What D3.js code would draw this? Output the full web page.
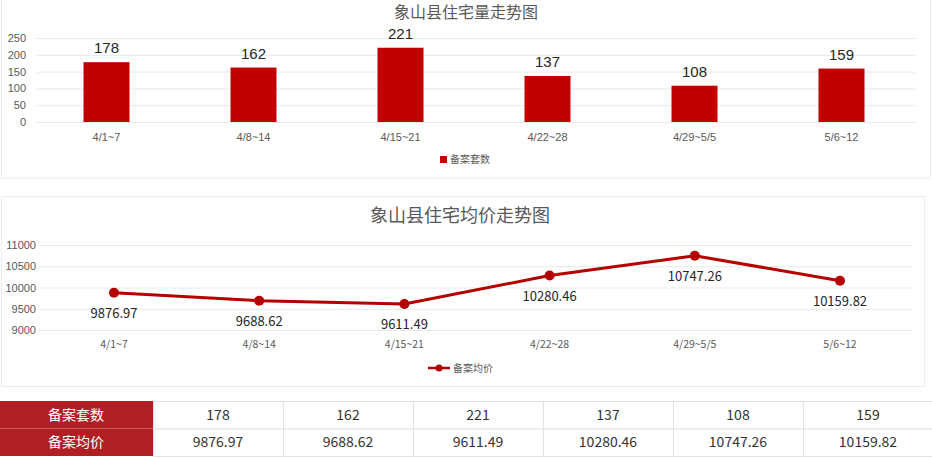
<!DOCTYPE html>
<html><head><meta charset="utf-8">
<script src="https://cdn.jsdelivr.net/npm/d3@7"></script>
<style>
html,body{margin:0;padding:0;background:#fff;}
svg{display:block;}
</style></head>
<body>
<svg id="c" width="932" height="458"></svg>
<script>
const categories = ["4/1~7","4/8~14","4/15~21","4/22~28","4/29~5/5","5/6~12"];
const counts = [178,162,221,137,108,159];
const prices = [9876.97,9688.62,9611.49,10280.46,10747.26,10159.82];
const countTicks = [0,50,100,150,200,250];
const priceTicks = [9000,9500,10000,10500,11000];
const title1 = "象山县住宅量走势图";
const title2 = "象山县住宅均价走势图";
const seriesCount = "备案套数";
const seriesPrice = "备案均价";

const svg = d3.select("#c");
const red = "#c00000";
const grid = "#e8e8e8";
const txt = "#595959";
const cjk = "'Microsoft YaHei','Noto Sans CJK SC',sans-serif";
const lat = "'Liberation Sans',Arial,sans-serif";

// ---------- Panel 1 ----------
svg.append("rect").attr("x",1.5).attr("y",-2).attr("width",929).attr("height",180)
  .attr("fill","none").attr("stroke","#ececec");
svg.append("text").attr("x",466).attr("y",18).attr("text-anchor","middle")
  .attr("font-family",cjk).attr("font-size",16).attr("fill",txt).text(title1);

const x1 = d3.scaleBand().domain(categories).range([33,915]);
const y1 = d3.scaleLinear().domain([0,250]).range([122,38]);
const g1 = svg.append("g");
g1.selectAll("line.g").data(countTicks).join("line")
  .attr("x1",37).attr("x2",915).attr("y1",d=>y1(d)+0.5).attr("y2",d=>y1(d)+0.5)
  .attr("stroke",grid);
const ax1 = g1.append("g").attr("transform","translate(30,0)")
  .call(d3.axisLeft(y1).tickValues(countTicks).tickFormat(d3.format("d")).tickSize(0).tickPadding(4));
ax1.select(".domain").remove();
ax1.selectAll("text").attr("font-family",lat).attr("font-size",11).attr("fill",txt);
const bw = 46;
g1.selectAll("rect.bar").data(counts).join("rect")
  .attr("x",(d,i)=>x1(categories[i])+x1.bandwidth()/2-bw/2)
  .attr("y",d=>y1(d)).attr("width",bw).attr("height",d=>y1(0)-y1(d))
  .attr("fill",red);
g1.selectAll("text.v").data(counts).join("text")
  .attr("x",(d,i)=>x1(categories[i])+x1.bandwidth()/2)
  .attr("y",d=>y1(d)-9).attr("text-anchor","middle")
  .attr("font-family",lat).attr("font-size",15).attr("fill","#262626").text(d=>d);
g1.selectAll("text.c").data(categories).join("text")
  .attr("x",d=>x1(d)+x1.bandwidth()/2).attr("y",141).attr("text-anchor","middle")
  .attr("font-family",lat).attr("font-size",11).attr("fill",txt).text(d=>d);
svg.append("rect").attr("x",440).attr("y",156).attr("width",7).attr("height",7).attr("fill",red);
svg.append("text").attr("x",450).attr("y",163).attr("font-family",cjk).attr("font-size",10)
  .attr("fill",txt).text(seriesCount);

// ---------- Panel 2 ----------
svg.append("rect").attr("x",1.5).attr("y",196.5).attr("width",923).attr("height",190)
  .attr("fill","none").attr("stroke","#ececec");
svg.append("text").attr("x",460).attr("y",222).attr("text-anchor","middle")
  .attr("font-family",cjk).attr("font-size",18).attr("fill",txt).text(title2);

const x2 = d3.scalePoint().domain(categories).range([114,840]);
const y2 = d3.scaleLinear().domain([9000,11000]).range([330,245]);
const g2 = svg.append("g");
g2.selectAll("line.g").data(priceTicks).join("line")
  .attr("x1",40).attr("x2",912).attr("y1",d=>y2(d)+0.5).attr("y2",d=>y2(d)+0.5)
  .attr("stroke",grid);
const ax2 = g2.append("g").attr("transform","translate(36,0)")
  .call(d3.axisLeft(y2).tickValues(priceTicks).tickFormat(d3.format("d")).tickSize(0).tickPadding(0));
ax2.select(".domain").remove();
ax2.selectAll("text").attr("font-family",lat).attr("font-size",11).attr("fill",txt);
const line = d3.line().x((d,i)=>x2(categories[i])).y(d=>y2(d));
g2.append("path").datum(prices).attr("d",line).attr("fill","none")
  .attr("stroke","#b40000").attr("stroke-width",3);
g2.selectAll("circle").data(prices).join("circle")
  .attr("cx",(d,i)=>x2(categories[i])).attr("cy",d=>y2(d)).attr("r",5).attr("fill","#b40000");
g2.selectAll("text.v").data(prices).join("text")
  .attr("x",(d,i)=>x2(categories[i])).attr("y",d=>y2(d)+25).attr("text-anchor","middle")
  .attr("font-family",cjk).attr("font-size",13).attr("fill","#262626").text(d=>d.toFixed(2));
g2.selectAll("text.c").data(categories).join("text")
  .attr("x",d=>x2(d)).attr("y",348).attr("text-anchor","middle")
  .attr("font-family",cjk).attr("font-size",10.5).attr("fill",txt).text(d=>d);
svg.append("line").attr("x1",428).attr("x2",450).attr("y1",368).attr("y2",368)
  .attr("stroke","#b40000").attr("stroke-width",2.5);
svg.append("circle").attr("cx",439).attr("cy",368).attr("r",3.5).attr("fill","#b40000");
svg.append("text").attr("x",453).attr("y",372).attr("font-family",cjk).attr("font-size",10)
  .attr("fill",txt).text(seriesPrice);

// ---------- Table ----------
const tx = d3.scaleBand().domain(categories).range([153,933]);
const rows = [{label:seriesCount,vals:counts.map(String)},{label:seriesPrice,vals:prices.map(d=>d.toFixed(2))}];
const ty = d3.scaleBand().domain([0,1]).range([401,456]);
const tg = svg.append("g");
rows.forEach((r,ri)=>{
  const y = ty(ri), h = ty.bandwidth();
  tg.append("rect").attr("x",0).attr("y",y).attr("width",153).attr("height",h).attr("fill","#b01f24");
  tg.append("text").attr("x",76).attr("y",y+h/2+5).attr("text-anchor","middle")
    .attr("font-family",cjk).attr("font-size",14).attr("font-weight",400).attr("fill","#fff").text(r.label);
  r.vals.forEach((v,i)=>{
    tg.append("rect").attr("x",tx(categories[i])+0.5).attr("y",y+0.5).attr("width",tx.bandwidth()).attr("height",h)
      .attr("fill","#fff").attr("stroke","#e3e3e3");
    tg.append("text").attr("x",tx(categories[i])+tx.bandwidth()/2).attr("y",y+h/2+5).attr("text-anchor","middle")
      .attr("font-family",cjk).attr("font-size",14).attr("font-weight",400).attr("fill","#333").text(v);
  });
});
tg.append("line").attr("x1",0).attr("x2",153).attr("y1",ty(1)).attr("y2",ty(1)).attr("stroke","#c9585c");
</script>
</body></html>
